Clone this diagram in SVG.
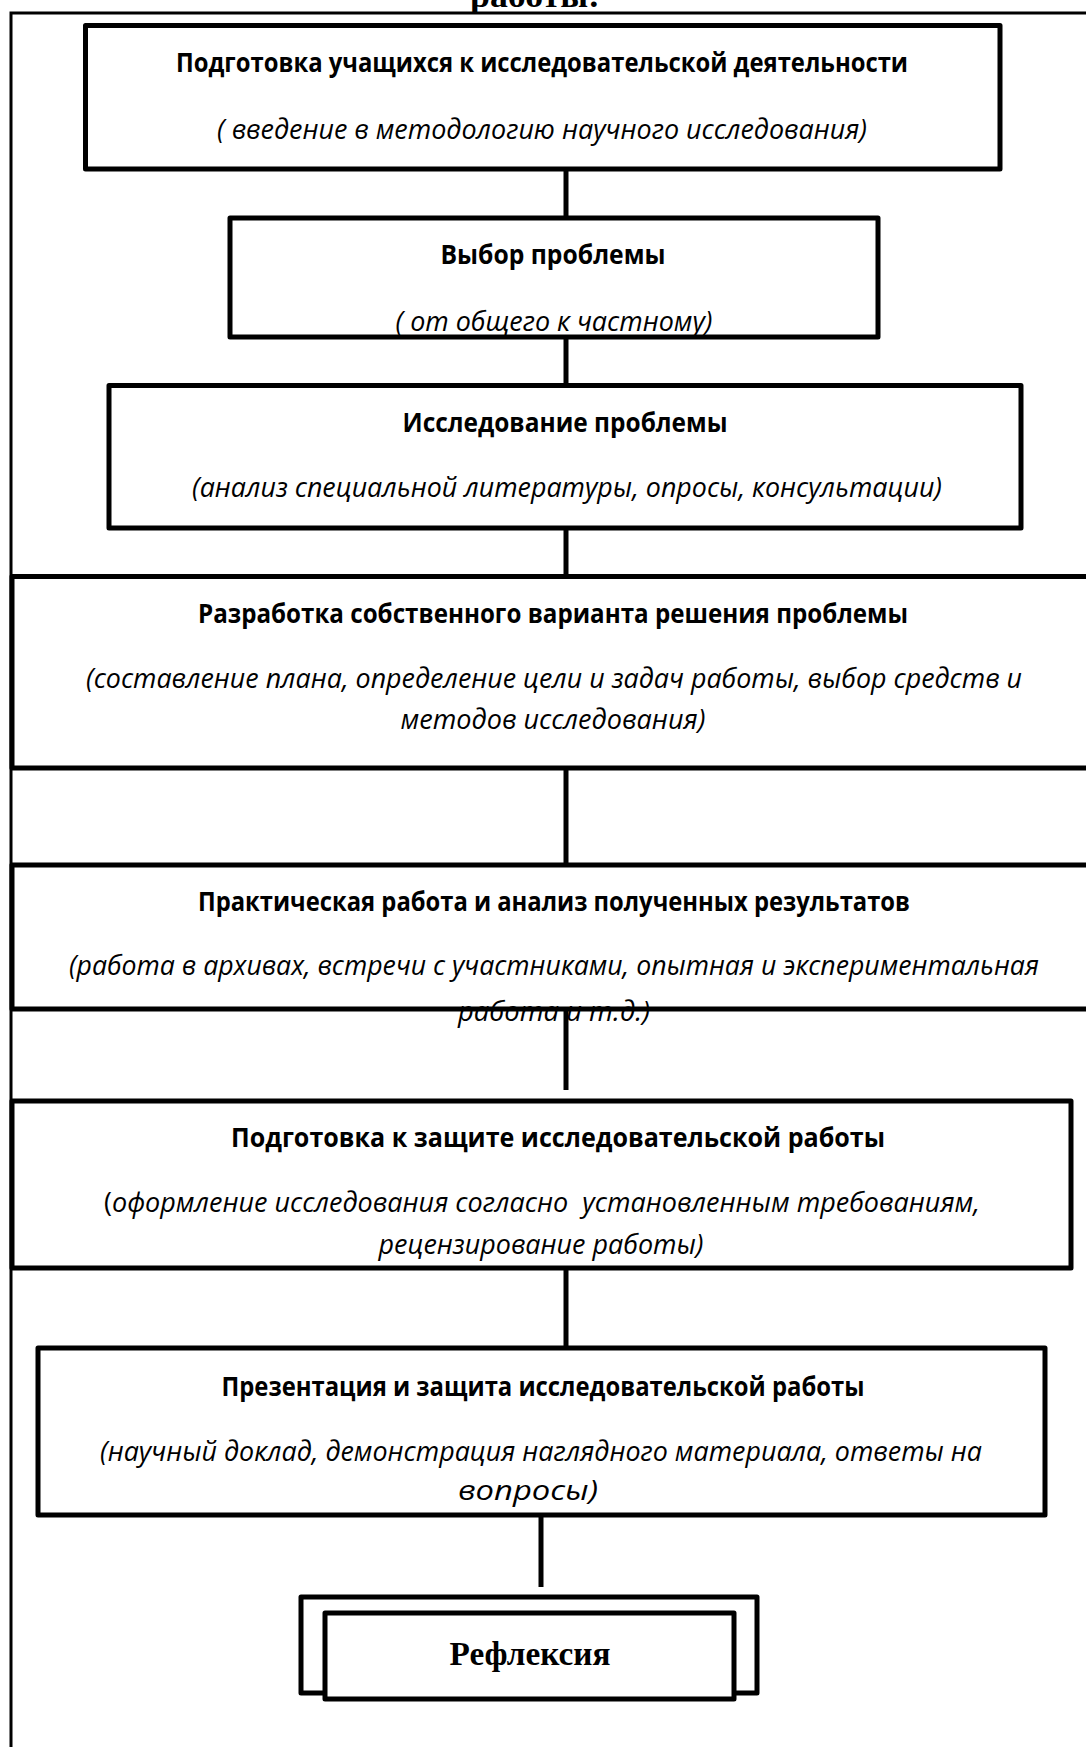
<svg xmlns="http://www.w3.org/2000/svg" width="1086" height="1747" viewBox="0 0 1086 1747">
<style>
.box{fill:#fff;stroke:#000;stroke-width:5;stroke-linejoin:round}
.frame{fill:none;stroke:#000;stroke-width:3}
.conn{stroke:#000;stroke-width:5;fill:none}
.b{font-family:"Open Sans","Liberation Sans",sans-serif;font-weight:bold;font-size:27px;fill:#000;text-anchor:middle}
.i{font-family:"Open Sans","Liberation Sans",sans-serif;font-style:italic;font-size:27.5px;fill:#000;text-anchor:middle}
.n{font-style:normal}
.t{font-family:"Liberation Serif","Times New Roman",serif;font-weight:bold;font-size:34px;fill:#000;text-anchor:middle}
</style>
<rect width="1086" height="1747" fill="#fff"/>
<text class="t" x="535" y="7" textLength="130" lengthAdjust="spacingAndGlyphs">работы:</text>
<path class="frame" d="M11 1747 V13 H1090"/>
<g id="connectors">
<line class="conn" x1="566" y1="169" x2="566" y2="218"/>
<line class="conn" x1="566" y1="337" x2="566" y2="385"/>
<line class="conn" x1="566" y1="528" x2="566" y2="576"/>
<line class="conn" x1="566" y1="768" x2="566" y2="865"/>
<line class="conn" x1="566" y1="1009" x2="566" y2="1090"/>
<line class="conn" x1="566" y1="1268" x2="566" y2="1348"/>
<line class="conn" x1="541" y1="1515" x2="541" y2="1587"/>
</g>
<g id="n1">
<rect class="box" x="85.5" y="25.5" width="914.5" height="143.5"/>
<text class="b" x="542" y="72" textLength="732" lengthAdjust="spacingAndGlyphs">Подготовка учащихся к исследовательской деятельности</text>
<text class="i" x="542" y="139" textLength="650" lengthAdjust="spacingAndGlyphs">( введение в методологию научного исследования)</text>
</g>
<g id="n2">
<rect class="box" x="230" y="218" width="648" height="119"/>
<text class="b" x="553" y="264" textLength="225" lengthAdjust="spacingAndGlyphs">Выбор проблемы</text>
<text class="i" x="554" y="331" textLength="317" lengthAdjust="spacingAndGlyphs">( от общего к частному)</text>
</g>
<g id="n3">
<rect class="box" x="109" y="385.5" width="912" height="142.5"/>
<text class="b" x="565" y="432" textLength="325" lengthAdjust="spacingAndGlyphs">Исследование проблемы</text>
<text class="i" x="567" y="497" textLength="750" lengthAdjust="spacingAndGlyphs">(анализ специальной литературы, опросы, консультации)</text>
</g>
<g id="n4">
<rect class="box" x="12" y="576.5" width="1090" height="191.5"/>
<text class="b" x="553" y="623" textLength="710" lengthAdjust="spacingAndGlyphs">Разработка собственного варианта решения проблемы</text>
<text class="i" x="554" y="688" textLength="936" lengthAdjust="spacingAndGlyphs">(составление плана, определение цели и задач работы, выбор средств и</text>
<text class="i" x="553" y="729" textLength="305" lengthAdjust="spacingAndGlyphs">методов исследования)</text>
</g>
<g id="n5">
<rect class="box" x="12" y="865" width="1090" height="144"/>
<text class="b" x="554" y="911" textLength="712" lengthAdjust="spacingAndGlyphs">Практическая работа и анализ полученных результатов</text>
<text class="i" x="554" y="975" textLength="970" lengthAdjust="spacingAndGlyphs">(работа в архивах, встречи с участниками, опытная и экспериментальная</text>
<text class="i" x="554" y="1021" textLength="192" lengthAdjust="spacingAndGlyphs">работа и т.д.)</text>
</g>
<g id="n6">
<rect class="box" x="12" y="1101" width="1059" height="167"/>
<text class="b" x="558" y="1147" textLength="654" lengthAdjust="spacingAndGlyphs">Подготовка к защите исследовательской работы</text>
<text class="i" x="542" y="1212" textLength="876" lengthAdjust="spacingAndGlyphs" xml:space="preserve"><tspan class="n">(</tspan>оформление исследования согласно  установленным требованиям,</text>
<text class="i" x="541" y="1254" textLength="325" lengthAdjust="spacingAndGlyphs">рецензирование работы)</text>
</g>
<g id="n7">
<rect class="box" x="38" y="1348" width="1007" height="167"/>
<text class="b" x="543" y="1396" textLength="643" lengthAdjust="spacingAndGlyphs">Презентация и защита исследовательской работы</text>
<text class="i" x="541" y="1461" textLength="882" lengthAdjust="spacingAndGlyphs">(научный доклад, демонстрация наглядного материала, ответы на</text>
<text class="i" x="528" y="1500" textLength="140" lengthAdjust="spacingAndGlyphs">вопросы)</text>
</g>
<g id="n8">
<rect class="box" x="301" y="1597" width="456" height="96" stroke-width="6"/>
<rect class="box" x="325" y="1613" width="409" height="86" stroke-width="6" stroke-linejoin="miter"/>
<text class="t" x="530" y="1665" textLength="161" lengthAdjust="spacingAndGlyphs">Рефлексия</text>
</g>
</svg>
